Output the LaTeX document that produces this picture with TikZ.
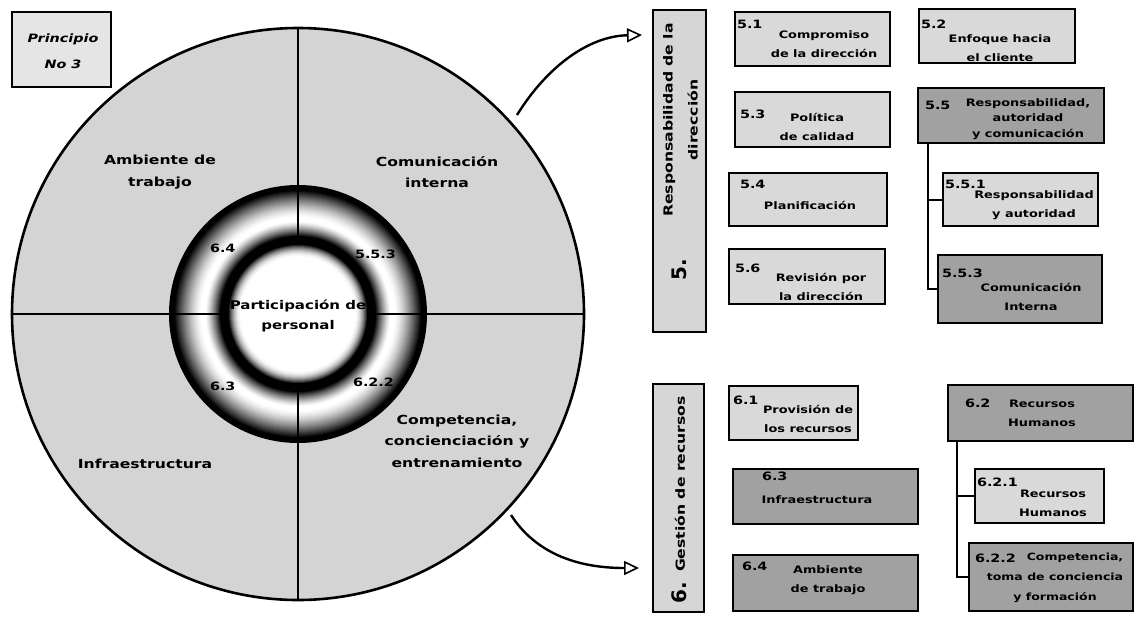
\documentclass[tikz,border=0pt]{standalone}
\usepackage{fontspec}
\setmainfont{DejaVu Sans}[FakeStretch=1.25]
\newfontfamily\numfont{DejaVu Sans}
\usetikzlibrary{arrows.meta}

\definecolor{discgray}{gray}{0.83}
\definecolor{lightbox}{gray}{0.85}
\definecolor{darkbox}{gray}{0.63}
\definecolor{tagfill}{gray}{0.9}
\definecolor{sidefill}{gray}{0.84}

\begin{document}
\begin{tikzpicture}[x=1pt,y=-1pt,
  every node/.style={inner sep=0pt,outer sep=0pt},
  lbox/.style={draw,line width=1.6pt,fill=lightbox,rectangle},
  dbox/.style={draw,line width=2pt,fill=darkbox,rectangle},
  sidebox/.style={draw,line width=2pt,fill=sidefill,rectangle},
  num/.style={anchor=base west,font=\fontsize{11.5}{13}\selectfont\bfseries},
  body/.style={align=center,font=\fontsize{10.3}{19}\selectfont\bfseries},
  quad/.style={align=center,font=\fontsize{12.5}{21.5}\selectfont\bfseries},
  sidetext/.style={rotate=90,align=center,font=\fontsize{12.5}{25}\selectfont\bfseries},
  bignum/.style={rotate=90,font=\fontsize{20}{22}\numfont\bfseries},
  conn/.style={line width=2pt},
  bendarrow/.style={line width=2.4pt,
    -{Triangle[open,length=15pt,width=14pt,line width=1.6pt]}}]
\fill[white] (0,0) rectangle (1135,625);
\useasboundingbox (0,0) rectangle (1135,625);

% principle tag
\node[draw,line width=1.6pt,fill=tagfill,minimum width=99pt,minimum height=75pt] (tag) at (61.5,49.5) {};
\node[align=center,font=\fontsize{11.5}{26}\selectfont\bfseries\itshape] (tagtext) at (63,51) {Principio\\No 3};

% big disc split in four quadrants
\node[circle,draw,line width=2.6pt,fill=discgray,minimum size=572pt] (outer) at (298,314) {};

% shaded ring: concentric discs, dark at both edges, white in between
\foreach \r in {129,128,...,77}{
  \ifnum\r>123 \def\k{100}\else
   \ifnum\r>97 \pgfmathsetmacro\k{100*((\r-97)/27)^1.4}\else
    \ifnum\r>92 \def\k{0}\else
     \ifnum\r>77 \pgfmathsetmacro\k{100*((93-\r)/15)^1.3}\else
      \def\k{100}\fi\fi\fi\fi
  \fill[black!\k] (298,314) circle[radius=\r pt];
}
\node[circle,minimum size=258pt] (ring) at (298,314) {};
\draw[line width=1.3pt] (outer.north) -- (outer.south);
\draw[line width=1.3pt] (outer.west) -- (outer.east);

% bright core with a dark rim
\foreach \r in {76,75,...,58}{
  \ifnum\r>69 \def\k{100}\else
   \pgfmathsetmacro\k{100*((\r-57)/13)^2}\fi
  \fill[black!\k] (298,314) circle[radius=\r pt];
}
\fill[white] (298,314) circle[radius=57pt];
\node[circle,minimum size=152pt] (core) at (298,314) {};
\node[align=center,font=\fontsize{12}{20}\selectfont\bfseries] (coretext) at (298,316) {Participación de\\personal};

\node[num] (r64) at (210,252) {6.4};
\node[num] (r553) at (355,258) {5.5.3};
\node[num] (r63) at (210,390) {6.3};
\node[num] (r622) at (353,386) {6.2.2};

\node[quad] (q1) at (160,172) {Ambiente de\\trabajo};
\node[quad] (q2) at (437,172) {Comunicación\\interna};
\node[quad] (q3) at (145,464) {Infraestructura};
\node[quad] (q4) at (457,441) {Competencia,\\concienciación y\\entrenamiento};

% bent arrows to both clauses
\coordinate (a1s) at (517,115);
\coordinate (a1e) at (642,35);
\coordinate (a2s) at (511,515);
\coordinate (a2e) at (639,568);
\draw[bendarrow] (a1s) .. controls (548,65) and (590,36) .. (a1e);
\draw[bendarrow] (a2s) .. controls (535,552) and (575,568) .. (a2e);

% clause 5
\node[sidebox,minimum width=53pt,minimum height=322pt] (side5) at (679.5,171) {};
\node[sidetext] (side5t) at (680.5,120) {Responsabilidad de la\\dirección};
\node[bignum] (side5n) at (679,270) {5.};

\node[lbox,minimum width=155pt,minimum height=54pt] (b51) at (812.5,39) {};
\node[num] at (737,28) {5.1};
\node[body] at (824,44) {Compromiso\\de la dirección};

\node[lbox,minimum width=156pt,minimum height=54pt] (b52) at (997,36) {};
\node[num] at (921,28) {5.2};
\node[body] at (1000,48) {Enfoque hacia\\el cliente};

\node[lbox,minimum width=155pt,minimum height=55pt] (b53) at (812.5,119.5) {};
\node[num] at (740,118) {5.3};
\node[body] at (817,127) {Política\\de calidad};

\node[dbox,minimum width=186pt,minimum height=55pt] (b55) at (1011,115.5) {};
\node[num] at (925,109) {5.5};
\node[body,font=\fontsize{10.3}{15.5}\selectfont\bfseries] at (1028,119) {Responsabilidad,\\autoridad\\y comunicación};

\node[lbox,minimum width=158pt,minimum height=53pt] (b54) at (808,199.5) {};
\node[num] at (740,188) {5.4};
\node[body] at (810,205) {Planificación};

\node[lbox,minimum width=156pt,minimum height=55pt] (b56) at (807,276.5) {};
\node[num] at (735,272) {5.6};
\node[body] at (821,287) {Revisión por\\la dirección};

\node[lbox,minimum width=155pt,minimum height=53pt] (b551) at (1020.5,199.5) {};
\node[num] at (945,188) {5.5.1};
\node[body] at (1034,205) {Responsabilidad\\y autoridad};

\node[dbox,minimum width=164pt,minimum height=68pt] (b553) at (1020,289) {};
\node[num] at (942,277) {5.5.3};
\node[body] at (1031,297) {Comunicación\\Interna};

\draw[conn] ([xshift=10pt]b55.south west) |- (b551.west);
\draw[conn] ([xshift=10pt]b55.south west) |- (b553.west);

% clause 6
\node[sidebox,minimum width=51pt,minimum height=228pt] (side6) at (678.5,498) {};
\node[sidetext] (side6t) at (680,484) {Gestión de recursos};
\node[bignum] (side6n) at (679,593) {6.};

\node[lbox,minimum width=129pt,minimum height=54pt] (b61) at (793.5,413) {};
\node[num] at (733,404) {6.1};
\node[body] at (808,419) {Provisión de\\los recursos};

\node[dbox,minimum width=185pt,minimum height=55pt] (b63) at (825.5,496.5) {};
\node[num] at (762,480) {6.3};
\node[body] at (817,500) {Infraestructura};

\node[dbox,minimum width=185pt,minimum height=56pt] (b64) at (825.5,583) {};
\node[num] at (742,570) {6.4};
\node[body] at (828,580) {Ambiente\\de trabajo};

\node[dbox,minimum width=185pt,minimum height=56pt] (b62) at (1040.5,413) {};
\node[num] at (965,407) {6.2};
\node[body] at (1042,413) {Recursos\\Humanos};

\node[lbox,minimum width=129pt,minimum height=54pt] (b621) at (1039.5,496) {};
\node[num] at (977,486) {6.2.1};
\node[body] at (1053,503) {Recursos\\Humanos};

\node[dbox,minimum width=164pt,minimum height=68pt] (b622) at (1051,577) {};
\node[num] at (975,562) {6.2.2};
\node[body,font=\fontsize{10}{20}\selectfont\bfseries] at (1055,578) {\hspace*{40pt}Competencia,\\toma de conciencia\\y formación};

\draw[conn] ([xshift=9pt]b62.south west) |- (b621.west);
\draw[conn] ([xshift=9pt]b62.south west) |- (b622.west);
\end{tikzpicture}
\end{document}
